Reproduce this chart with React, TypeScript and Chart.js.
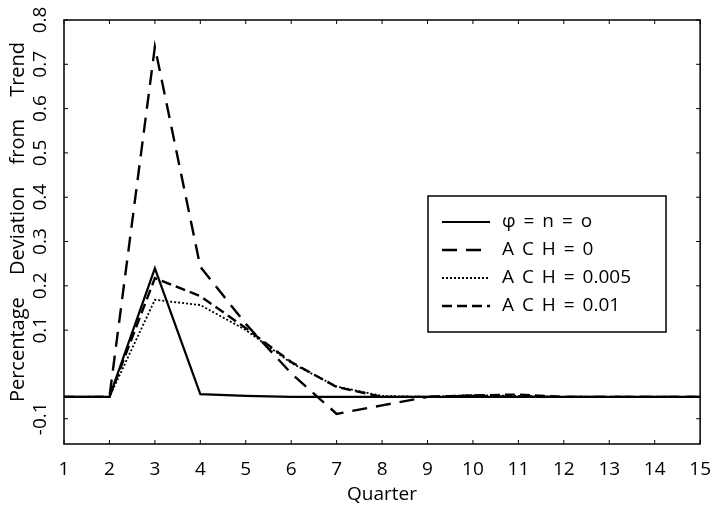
import React, { useEffect, useRef } from 'react';
import { Chart, registerables } from 'chart.js';

Chart.register(...registerables);

const quarters = [1, 2, 3, 4, 5, 6, 7, 8, 9, 10, 11, 12, 13, 14, 15];
const seriesLabels = ['φ = n = o', 'A C H = 0', 'A C H = 0.005', 'A C H = 0.01'];
const baseline = [0, 0, 0.273, 0.006, 0.002, 0, 0, 0, 0, 0, 0, 0, 0, 0, 0];
const ach0 = [0, 0, 0.743, 0.276, 0.155, 0.05, -0.036, -0.018, 0, 0.002, 0, 0, 0, 0, 0];
const ach005 = [0, 0, 0.206, 0.195, 0.142, 0.072, 0.022, 0.002, 0, 0.004, 0.002, 0, 0, 0, 0];
const ach01 = [0, 0, 0.252, 0.214, 0.146, 0.074, 0.021, 0, 0, 0.003, 0.005, 0, 0, 0, 0];
// the printed tick labels of the original figure sit on their own (evenly spaced) scale
const yTickValues = [-0.1, 0.1, 0.2, 0.3, 0.4, 0.5, 0.6, 0.7, 0.8];
const yTickLabels = ['-0.1', '0.1', '0.2', '0.3', '0.4', '0.5', '0.6', '0.7', '0.8'];
const yLabelScaleMin = -0.157;
const yLabelScaleMax = 0.8;
const yTitle = 'Percentage Deviation from Trend';
const xTitle = 'Quarter';

const FONT = "'Open Sans', 'DejaVu Sans', sans-serif";

const toPoints = (vals: number[]) => quarters.map((q, i) => ({ x: q, y: vals[i] }));

const decorPlugin = {
  id: 'decor',
  afterDraw(chart: any) {
    const { ctx, chartArea } = chart;
    const xs = chart.scales.x;
    const yl = chart.scales.yLab;
    const { left, right, top, bottom } = chartArea;
    ctx.save();
    // frame
    ctx.strokeStyle = '#000';
    ctx.lineWidth = 1.5;
    ctx.strokeRect(left, top, right - left, bottom - top);
    // inward ticks
    ctx.lineWidth = 1;
    quarters.forEach((q) => {
      const px = xs.getPixelForValue(q);
      ctx.beginPath();
      ctx.moveTo(px, bottom);
      ctx.lineTo(px, bottom - 4);
      ctx.moveTo(px, top);
      ctx.lineTo(px, top + 4);
      ctx.stroke();
    });
    yTickValues.forEach((v) => {
      const py = yl.getPixelForValue(v);
      ctx.beginPath();
      ctx.moveTo(left, py);
      ctx.lineTo(left + 4, py);
      ctx.moveTo(right, py);
      ctx.lineTo(right - 4, py);
      ctx.stroke();
    });
    // rotated y tick labels
    ctx.fillStyle = '#000';
    ctx.font = `19px ${FONT}`;
    ctx.textAlign = 'center';
    ctx.textBaseline = 'middle';
    yTickValues.forEach((v, i) => {
      const py = yl.getPixelForValue(v);
      ctx.save();
      ctx.translate(left - 23, py);
      ctx.rotate(-Math.PI / 2);
      ctx.fillText(yTickLabels[i], 0, 0);
      ctx.restore();
    });
    // y title
    ctx.save();
    ctx.font = `20px ${FONT}`;
    (ctx as any).wordSpacing = '17px';
    ctx.translate(left - 46, (top + bottom) / 2 - 10);
    ctx.rotate(-Math.PI / 2);
    ctx.fillText(yTitle, 0, 0);
    ctx.restore();
    // legend
    const bx = left + 364;
    const by = top + 176;
    const bw = 238;
    const bh = 136;
    ctx.lineWidth = 1.5;
    ctx.strokeRect(bx, by, bw, bh);
    ctx.font = `19px ${FONT}`;
    (ctx as any).wordSpacing = '3px';
    ctx.textAlign = 'left';
    chart.data.datasets.forEach((ds: any, i: number) => {
      const cy = by + 26 + i * 28;
      ctx.save();
      ctx.strokeStyle = '#000';
      ctx.lineWidth = ds.borderWidth;
      ctx.setLineDash(ds.borderDash || []);
      ctx.beginPath();
      ctx.moveTo(bx + 14, cy);
      ctx.lineTo(bx + 62, cy);
      ctx.stroke();
      ctx.restore();
      ctx.fillText(ds.label, bx + 74, cy);
    });
    ctx.restore();
  },
};

export default function App() {
  const ref = useRef<HTMLCanvasElement | null>(null);
  useEffect(() => {
    document.body.style.margin = '0';
    const canvas = ref.current;
    if (!canvas) return;
    const chart = new Chart(canvas, {
      type: 'line',
      data: {
        datasets: [
          { label: seriesLabels[0], data: toPoints(baseline), borderColor: '#000', borderWidth: 2.2, borderDash: [], pointRadius: 0, tension: 0 },
          { label: seriesLabels[1], data: toPoints(ach0), borderColor: '#000', borderWidth: 2.4, borderDash: [15, 9], pointRadius: 0, tension: 0 },
          { label: seriesLabels[2], data: toPoints(ach005), borderColor: '#000', borderWidth: 1.8, borderDash: [2, 2], pointRadius: 0, tension: 0 },
          { label: seriesLabels[3], data: toPoints(ach01), borderColor: '#000', borderWidth: 2.4, borderDash: [10, 5], pointRadius: 0, tension: 0 },
        ],
      },
      options: {
        animation: false,
        responsive: false,
        devicePixelRatio: 1,
        layout: { padding: { top: 20, right: 9, left: 0, bottom: 0 } },
        plugins: { legend: { display: false }, tooltip: { enabled: false } },
        scales: {
          x: {
            type: 'linear',
            min: 1,
            max: 15,
            grid: { display: false },
            border: { display: false },
            ticks: { stepSize: 1, color: '#000', font: { family: FONT, size: 19 }, padding: 6, maxRotation: 0 },
            title: { display: true, text: xTitle, color: '#000', font: { family: FONT, size: 19 }, padding: { top: 1, bottom: 0 } },
            afterFit: (s: any) => { s.height = 62; },
          },
          y: {
            type: 'linear',
            position: 'left',
            min: -0.1,
            max: 0.8,
            grid: { display: false },
            border: { display: false },
            ticks: { display: false },
            afterFit: (s: any) => { s.width = 64; },
          },
          yLab: {
            type: 'linear',
            position: 'left',
            display: false,
            min: yLabelScaleMin,
            max: yLabelScaleMax,
          },
        },
      },
      plugins: [decorPlugin],
    } as any);
    return () => chart.destroy();
  }, []);
  return (
    <div style={{ width: 717, height: 506 }}>
      <canvas ref={ref} width={717} height={506} />
    </div>
  );
}
